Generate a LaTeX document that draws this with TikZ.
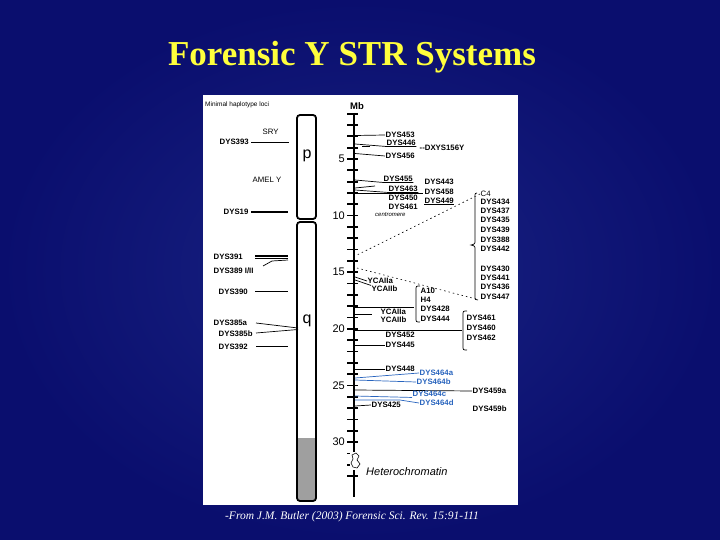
\documentclass[tikz,border=0pt]{standalone}
\usepackage{fontspec}
\setmainfont{Liberation Serif}
\newfontfamily\labfont{Liberation Sans}
\definecolor{bgblue}{RGB}{10,14,110}
\definecolor{titley}{RGB}{255,255,60}
\definecolor{locblue}{RGB}{40,100,190}
\begin{document}
\begin{tikzpicture}[x=1pt,y=-1pt,
  lab/.style={font=\labfont\bfseries\fontsize{7.8}{8}\selectfont,inner sep=0.5pt,anchor=west},
  blab/.style={lab,text=locblue},
  num/.style={font=\labfont\fontsize{11}{12}\selectfont,inner sep=0pt},
  ln/.style={line width=0.7pt},
  bln/.style={line width=0.7pt,draw=locblue},
  dots/.style={dash pattern=on 1.5pt off 3pt,line width=0.6pt}]
\useasboundingbox (0,0) rectangle (720,540);
\shade[inner color={rgb,255:red,25;green,35;blue,130},outer color=bgblue] (0,0) rectangle (720,540);
\node[font=\bfseries\fontsize{35}{38}\selectfont,text=titley] (title) at (352,57) {Forensic Y STR Systems};
\fill[white] (203,95) rectangle (518,505);
\node[font=\itshape\fontsize{11.5}{13}\selectfont,text=white] (src) at (352,517) {-From J.M. Butler (2003) Forensic Sci. Rev. 15:91-111};
% chromosome
\node[font=\labfont\fontsize{6.5}{7}\selectfont,anchor=west,inner sep=0] (mhl) at (205,105) {Minimal haplotype loci};
\fill[gray!75] (297,438) rectangle (316,500);
\draw[line width=1.8pt,rounded corners=3pt] (297,115) rectangle (316,219);
\draw[line width=1.8pt,rounded corners=3pt] (297,222) rectangle (316,501);
\node[font=\labfont\fontsize{16}{17}\selectfont] (pn) at (307,156) {p};
\node[font=\labfont\fontsize{16}{17}\selectfont] (qn) at (307,321) {q};
% axis
\node[font=\labfont\bfseries\fontsize{9.5}{10}\selectfont] (mb) at (357,106) {Mb};
\draw[line width=1.3pt] (354,113) -- (354,497);
\foreach \m in {1,...,33}{\draw[line width=1.8pt] (347,{102.3+11.33*\m}) -- (358,{102.3+11.33*\m});}
\foreach \m/\t in {5/5,10/10,15/15,20/20,25/25,30/30}{\node[num,anchor=east] (ax\m) at (345,{102.3+11.33*\m}) {\t};}
% left loci
\node[lab,font=\labfont\fontsize{7.8}{8}\selectfont] (sry) at (262,132) {SRY};
\node[lab] (d393) at (219,142) {DYS393};
\coordinate (c393) at (289,142); \draw[ln] (d393.east)++(2,0) -- (c393);
\node[lab,font=\labfont\fontsize{7.8}{8}\selectfont] (amel) at (252,180) {AMEL Y};
\node[lab] (d19) at (223,212) {DYS19};
\coordinate (c19) at (288,212); \draw[line width=1.2pt] (d19.east)++(2,0) -- (c19);
\node[lab] (d391) at (213,257) {DYS391};
\coordinate (c391) at (288,256);
\draw[line width=1.2pt] (255,256) -- (c391); \draw[line width=1.2pt] (255,258.5) -- (288,258.5);
\node[lab] (d389) at (213,271) {DYS389 I/II};
\coordinate (c389) at (288,260); \draw[ln] (263,266) -- (272,261) -- (c389);
\node[lab] (d390) at (218,292) {DYS390};
\coordinate (c390) at (288,291); \draw[ln] (255,291) -- (c390);
\node[lab] (d385a) at (213,323) {DYS385a};
\node[lab] (d385b) at (218,334) {DYS385b};
\coordinate (c385) at (298,328);
\draw[ln] (256,323) -- (c385); \draw[ln] (256,333) -- (298,329.5);
\node[lab] (d392) at (218,347) {DYS392};
\coordinate (c392) at (288,346); \draw[ln] (256,346) -- (c392);
% right loci
\node[lab] (d453) at (385,135) {DYS453};
\draw[ln] (355,135.5) -- (d453.west);
\node[lab] (d446) at (386,143) {DYS446};
\draw[ln] (362,146) -- (370,146); \draw[ln] (355,144) -- (d446.south west)--(d446.south east);
\node[lab] (dx) at (419,148) {--DXYS156Y};
\node[lab] (d456) at (385,156) {DYS456};
\draw[ln] (355,153.5) -- (d456.west);
\node[lab] (d455) at (383,179) {DYS455};
\draw[ln] (355,180) -- (d455.south west) -- (d455.south east);
\node[lab] (d443) at (424,182) {DYS443};
\node[lab] (d463) at (388,189) {DYS463};
\draw[ln] (355,188) -- (375,186); \draw[ln] (355,190) -- (d463.south west) -- (d463.south east);
\node[lab] (d458) at (424,192) {DYS458};
\node[lab] (d450) at (388,198) {DYS450};
\draw[ln] (355,193) -- (423,193);
\node[lab] (d449) at (424,201) {DYS449};
\draw[ln] (d449.south west) -- (d449.south east);
\node[lab] (d464x) at (388,207) {DYS461};
\node[font=\labfont\itshape\fontsize{6}{7}\selectfont,anchor=west,inner sep=0] (cen) at (375,215) {centromere};
% C4 group
\node[lab,font=\labfont\fontsize{7.8}{8}\selectfont] (c4) at (480,194) {C4};
\node[lab] (d434) at (480,202) {DYS434};
\node[lab] (d437) at (480,211) {DYS437};
\node[lab] (d435) at (480,220) {DYS435};
\node[lab] (d439) at (480,230) {DYS439};
\node[lab] (d388) at (480,240) {DYS388};
\node[lab] (d442) at (480,249) {DYS442};
\node[lab] (d430) at (480,269) {DYS430};
\node[lab] (d441) at (480,278) {DYS441};
\node[lab] (d436) at (480,287) {DYS436};
\node[lab] (d447) at (480,297) {DYS447};
\draw[ln] (477,193) .. controls (474,193) and (475,196) .. (475,200) -- (475,240) .. controls (475,244) .. (471,245) .. controls (475,246) .. (475,250) -- (475,295) .. controls (475,300) .. (478,300);
\coordinate (dt1) at (357,255); \coordinate (dt2) at (357,268);
\draw[dots] (c4.west) -- (dt1);
\draw[dots] (dt2) -- (476,299);
% YCAII etc
\node[lab] (ya1) at (367,281) {YCAIIa};
\node[lab] (yb1) at (371,289) {YCAIIb};
\draw[ln] (355,277) -- (ya1.west); \draw[ln] (355,280) -- (yb1.north west);
\node[lab] (a10) at (420,291) {A10};
\node[lab] (h4) at (420,300) {H4};
\node[lab] (d428) at (420,309) {DYS428};
\node[lab] (d444) at (420,319) {DYS444};
\draw[ln] (420,286) .. controls (416,286) .. (416,290) -- (416,318) .. controls (416,322) .. (420,322);
\draw[ln] (355,307) -- (414,307);
\draw[ln] (355,314) -- (372,314);
\node[lab] (ya2) at (380,312) {YCAIIa};
\node[lab] (yb2) at (380,320) {YCAIIb};
\node[lab] (d461) at (466,318) {DYS461};
\node[lab] (d460) at (466,328) {DYS460};
\node[lab] (d462) at (466,338) {DYS462};
\draw[ln] (467,311) .. controls (463,311) .. (463,315) -- (463,346) .. controls (463,350) .. (467,350);
\draw[ln] (355,330) -- (462,330);
\node[lab] (d452) at (385,335) {DYS452};
\node[lab] (d445) at (385,345) {DYS445};
\draw[ln] (355,345) -- (d445.west);
\node[lab] (d448) at (385,369) {DYS448};
\draw[ln] (355,369) -- (d448.west);
\node[blab] (d464a) at (419,373) {DYS464a};
\draw[bln] (355,378) -- (d464a.west);
\node[blab] (d464b) at (416,382) {DYS464b};
\draw[bln] (355,380) -- (d464b.west);
\node[lab] (d459a) at (472,391) {DYS459a};
\draw[ln] (355,390) -- (d459a.west);
\node[blab] (d464c) at (412,394) {DYS464c};
\draw[bln] (355,396) -- (d464c.south west);
\node[blab] (d464d) at (419,403) {DYS464d};
\draw[bln] (355,400) -- (400,400) -- (d464d.west);
\node[lab] (d425) at (371,405) {DYS425};
\draw[ln] (355,406) -- (d425.west);
\node[lab] (d459b) at (472,409) {DYS459b};
% heterochromatin squiggle
\fill[white] (350,452) rectangle (360,470);
\draw[line width=0.6pt] (352,455) -- (356,453) -- (359,456) -- (357,460) -- (360,464) -- (357,468) -- (353,467) -- (351,463) -- (353,459) -- cycle;
\draw[line width=1.3pt] (354,470) -- (354,497);
\node[font=\labfont\itshape\fontsize{11}{12}\selectfont,anchor=west,inner sep=0] (het) at (366,472) {Heterochromatin};
\end{tikzpicture}
\end{document}
